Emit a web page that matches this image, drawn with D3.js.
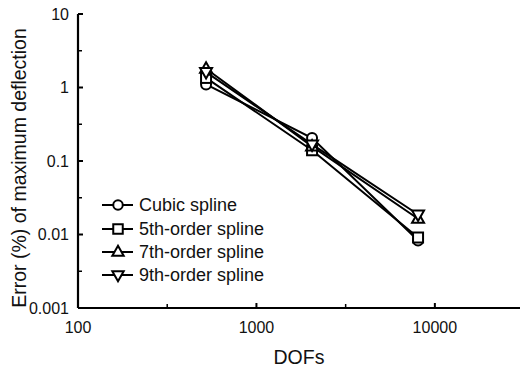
<!DOCTYPE html>
<html>
<head>
<meta charset="utf-8">
<script src="https://cdn.jsdelivr.net/npm/d3@7"></script>
<style>
  html, body { margin: 0; padding: 0; background: #fff; }
  svg { display: block; font-family: "Liberation Sans", Arial, sans-serif; }
</style>
</head>
<body>
<svg id="chart" width="520" height="374"></svg>
<script>
// Convergence of maximum-deflection error versus degrees of freedom
const dofs = [522, 2050, 8050];
const seriesNames = ["Cubic spline", "5th-order spline", "7th-order spline", "9th-order spline"];
const seriesSymbols = ["circle", "square", "triangleUp", "triangleDown"];
const cubic = [1.10, 0.205, 0.0083];
const fifth = [1.35, 0.140, 0.0091];
const seventh = [1.80, 0.158, 0.0164];
const ninth = [1.62, 0.168, 0.0187];
const xTickValues = [100, 1000, 10000];
const xTickLabels = ["100", "1000", "10000"];
const yTickValues = [0.001, 0.01, 0.1, 1, 10];
const yTickLabels = ["0.001", "0.01", "0.1", "1", "10"];

const seriesValues = [cubic, fifth, seventh, ninth];

const svg = d3.select("#chart");
const x = d3.scaleLog().domain([100, 30000]).range([78, 520]);
const y = d3.scaleLog().domain([0.001, 10]).range([308, 14]);

// Axis lines with inward ticks
const g = svg.append("g");
g.append("line").attr("x1", x(100)).attr("x2", 520).attr("y1", y(0.001)).attr("y2", y(0.001))
  .attr("stroke", "#000").attr("stroke-width", 2.2);
g.append("line").attr("x1", x(100)).attr("x2", x(100)).attr("y1", y(0.001)).attr("y2", y(10))
  .attr("stroke", "#000").attr("stroke-width", 2.2);

const yMajor = yTickValues;
const yMinor = yTickValues.slice(0, -1).map(v => v * Math.sqrt(10));
const xMajor = xTickValues;
const xMinor = xTickValues.map(v => v * Math.sqrt(10)).filter(v => v < 30000);

yMajor.forEach(v => g.append("line").attr("x1", x(100)).attr("x2", x(100) + 5)
  .attr("y1", y(v)).attr("y2", y(v)).attr("stroke", "#000").attr("stroke-width", 2));
yMinor.forEach(v => g.append("line").attr("x1", x(100)).attr("x2", x(100) + 4)
  .attr("y1", y(v)).attr("y2", y(v)).attr("stroke", "#000").attr("stroke-width", 1.5));
xMajor.forEach(v => g.append("line").attr("x1", x(v)).attr("x2", x(v))
  .attr("y1", y(0.001)).attr("y2", y(0.001) - 5).attr("stroke", "#000").attr("stroke-width", 2));
xMinor.forEach(v => g.append("line").attr("x1", x(v)).attr("x2", x(v))
  .attr("y1", y(0.001)).attr("y2", y(0.001) - 4).attr("stroke", "#000").attr("stroke-width", 1.5));

// Tick labels
yTickValues.forEach((v, i) => g.append("text").attr("x", 69).attr("y", y(v)).attr("dy", "0.35em")
  .attr("text-anchor", "end").attr("font-size", 16).attr("fill", "#111").text(yTickLabels[i]));
xTickValues.forEach((v, i) => g.append("text").attr("x", x(v)).attr("y", 333)
  .attr("text-anchor", "middle").attr("font-size", 16).attr("fill", "#111").text(xTickLabels[i]));

// Axis titles
svg.append("text").attr("transform", "translate(26,168) rotate(-90)")
  .attr("text-anchor", "middle").attr("font-size", 19.5).attr("fill", "#111")
  .text("Error (%) of maximum deflection");
svg.append("text").attr("x", 299).attr("y", 364).attr("text-anchor", "middle")
  .attr("font-size", 19.5).attr("fill", "#111").text("DOFs");

// Marker shapes
function drawMarker(sel, kind, cx, cy, k = 1) {
  const attrs = s => s.attr("fill", "#fff").attr("stroke", "#000").attr("stroke-width", 2);
  if (kind === "circle") {
    attrs(sel.append("circle").attr("cx", cx).attr("cy", cy).attr("r", 5 * k));
  } else if (kind === "square") {
    attrs(sel.append("rect").attr("x", cx - 5 * k).attr("y", cy - 5 * k)
      .attr("width", 10 * k).attr("height", 10 * k));
  } else if (kind === "triangleUp") {
    attrs(sel.append("path").attr("d",
      `M${cx},${cy - 6.5 * k}L${cx + 6 * k},${cy + 4 * k}L${cx - 6 * k},${cy + 4 * k}Z`));
  } else {
    attrs(sel.append("path").attr("d",
      `M${cx},${cy + 6.5 * k}L${cx + 6 * k},${cy - 4 * k}L${cx - 6 * k},${cy - 4 * k}Z`));
  }
}

const line = d3.line().x((d, i) => x(dofs[i])).y(d => y(d));
seriesValues.forEach((vals, s) => {
  const sg = svg.append("g");
  sg.append("path").attr("d", line(vals)).attr("fill", "none")
    .attr("stroke", "#000").attr("stroke-width", 2);
  vals.forEach((v, i) => drawMarker(sg, seriesSymbols[s], x(dofs[i]), y(v)));
});

// Legend
const legendRows = [205, 229, 252, 275];
seriesNames.forEach((name, s) => {
  const lg = svg.append("g");
  const ly = legendRows[s];
  lg.append("line").attr("x1", 102).attr("x2", 133).attr("y1", ly).attr("y2", ly)
    .attr("stroke", "#000").attr("stroke-width", 2);
  drawMarker(lg, seriesSymbols[s], 118, ly, 0.95);
  lg.append("text").attr("x", 139).attr("y", ly).attr("dy", "0.36em")
    .attr("font-size", 18).attr("fill", "#111").text(name);
});
</script>
</body>
</html>
